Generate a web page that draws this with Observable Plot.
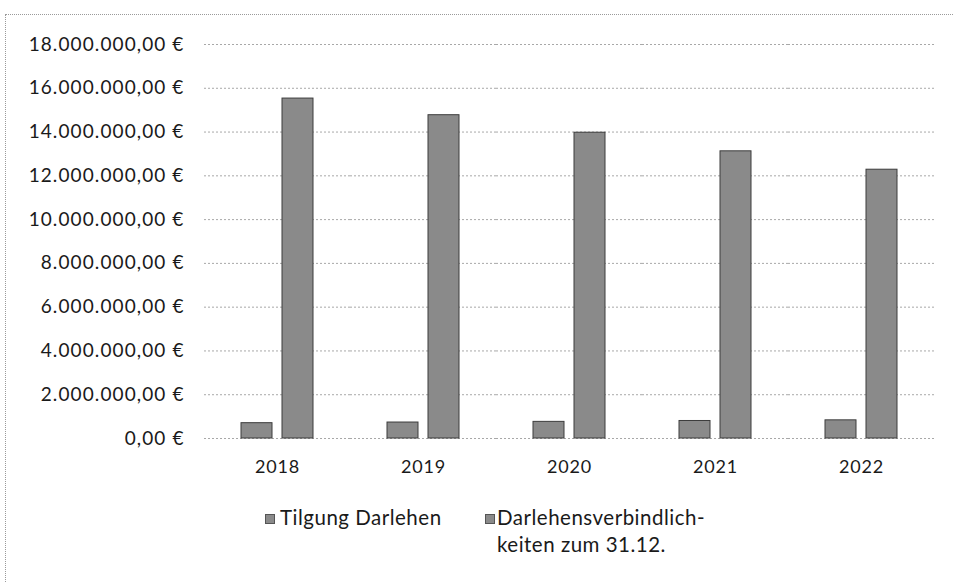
<!DOCTYPE html>
<html>
<head>
<meta charset="utf-8">
<script src="https://cdn.jsdelivr.net/npm/d3@7"></script>
<script src="https://cdn.jsdelivr.net/npm/@observablehq/plot@0.6"></script>
<style>
  html, body { margin: 0; padding: 0; background: #fff; }
  body { width: 954px; height: 583px; position: relative; overflow: hidden; font-family: Lato, "Open Sans", sans-serif; color: #1a1a1a; }
  #frame { position: absolute; left: 5px; top: 14px; right: -5px; bottom: -5px; border-left: 1px dotted #9a9a9a; border-top: 1px dotted #9a9a9a; }
  #chart { position: absolute; left: 0; top: 0; }
  #chart svg text { fill: #1a1a1a; }
  #chart svg g[aria-label="y-axis tick label"] text { letter-spacing: 1.1px; font-size: 19px; }
  #chart svg g[aria-label="fx-axis tick label"] text { letter-spacing: 0.8px; font-size: 18px; }
  .legend-item { position: absolute; font-size: 20.5px; line-height: 27px; letter-spacing: 0.5px; color: #1a1a1a; white-space: nowrap; }
  .swatch { position: absolute; left: 0; top: 10px; width: 10px; height: 10px; background: #8a8a8a; border: 1px solid #555; box-sizing: border-box; }
  .legend-item span.txt { display: block; }
</style>
</head>
<body>
<div id="frame"></div>
<div id="chart"></div>
<div class="legend-item" id="leg0" style="left:265px; top:504px;"><div class="swatch"></div><span class="txt" style="margin-left:15px"></span></div>
<div class="legend-item" id="leg1" style="left:485px; top:504px;"><div class="swatch"></div><span class="txt" style="margin-left:12px"></span></div>
<script>
const years = ["2018", "2019", "2020", "2021", "2022"];
const seriesNames = ["Tilgung Darlehen", "Darlehensverbindlichkeiten zum 31.12."];
const legendLabels = ["Tilgung Darlehen", "Darlehensverbindlich-<br>keiten zum 31.12."];
const tilgung = [700000, 730000, 760000, 800000, 830000];
const darlehen = [15530000, 14770000, 13970000, 13120000, 12280000];
const yTicks = [0, 2000000, 4000000, 6000000, 8000000, 10000000, 12000000, 14000000, 16000000, 18000000];

const rows = [];
years.forEach((yr, i) => {
  rows.push({year: yr, series: seriesNames[0], value: tilgung[i]});
  rows.push({year: yr, series: seriesNames[1], value: darlehen[i]});
});

const de = d3.formatLocale({decimal: ",", thousands: ".", grouping: [3], currency: ["", " €"]});
const fmt = de.format("$,.2f");

const chart = Plot.plot({
  width: 954,
  height: 488,
  marginLeft: 203,
  marginRight: 19,
  marginTop: 44,
  marginBottom: 50,
  style: {fontFamily: "Lato, 'Open Sans', sans-serif", fontSize: "18px", color: "#1a1a1a", background: "transparent"},
  fx: {domain: years, padding: 0, label: null, axis: "bottom", tickSize: 0, tickPadding: 22},
  x: {domain: seriesNames, paddingInner: 0.24, paddingOuter: 0.86, axis: null},
  y: {domain: [0, 18000000], ticks: yTicks, tickFormat: fmt, tickSize: 0, tickPadding: 20, label: null},
  marks: [
    Plot.ruleY(yTicks, {stroke: "#a8a8a8", strokeDasharray: "2,2", strokeWidth: 1}),
    Plot.barY(rows, {fx: "year", x: "series", y: "value", fill: "#8a8a8a", stroke: "#3c3c3c", strokeWidth: 1})
  ]
});
document.getElementById("chart").appendChild(chart);

legendLabels.forEach((t, i) => {
  document.querySelector("#leg" + i + " .txt").innerHTML = t;
});
</script>
</body>
</html>
